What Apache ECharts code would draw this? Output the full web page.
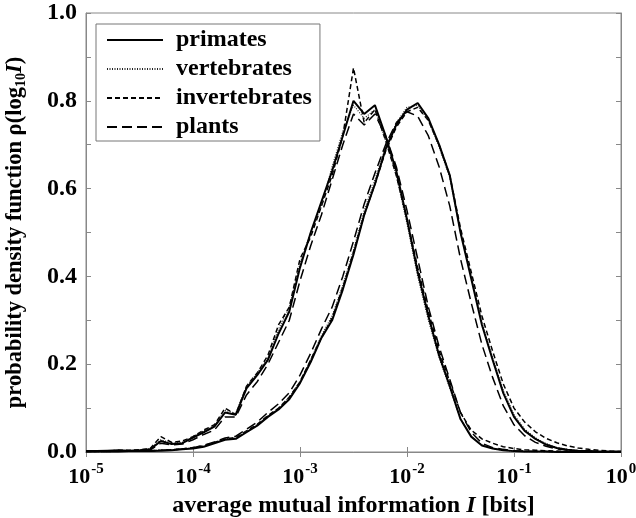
<!DOCTYPE html>
<html>
<head>
<meta charset="utf-8">
<script src="https://cdn.jsdelivr.net/npm/echarts@6/dist/echarts.min.js"></script>
<style>
html,body{margin:0;padding:0;background:#fff;}
#chart{width:636px;height:518px;}
</style>
</head>
<body>
<div id="chart"></div>
<script>
// log10 of average mutual information I
const logI = [-5.0,-4.9,-4.8,-4.7,-4.6,-4.5,-4.4,-4.3,-4.2,-4.1,-4.0,-3.9,-3.8,-3.7,-3.6,-3.5,-3.4,-3.3,-3.2,-3.1,-3.0,-2.9,-2.8,-2.7,-2.6,-2.5,-2.4,-2.3,-2.2,-2.1,-2.0,-1.9,-1.8,-1.7,-1.6,-1.5,-1.4,-1.3,-1.2,-1.1,-1.0,-0.9,-0.8,-0.7,-0.6,-0.5,-0.4,-0.3,-0.2,-0.1,0.0];

const legendNames = ['primates','vertebrates','invertebrates','plants'];

// left group of curves
const primatesA = [0.002,0.002,0.003,0.004,0.003,0.004,0.006,0.025,0.018,0.02,0.033,0.045,0.058,0.09,0.085,0.145,0.175,0.21,0.27,0.32,0.42,0.5,0.57,0.64,0.72,0.8,0.77,0.79,0.72,0.64,0.53,0.41,0.31,0.22,0.15,0.075,0.035,0.015,0.008,0.004,0.002,0.001,0.001,0.001,0,0,0,0,0,0,0];
const vertebratesA = [0.002,0.002,0.002,0.003,0.003,0.004,0.008,0.028,0.02,0.022,0.035,0.048,0.06,0.095,0.088,0.15,0.18,0.215,0.28,0.33,0.43,0.5,0.56,0.65,0.73,0.79,0.76,0.78,0.71,0.63,0.52,0.4,0.3,0.215,0.145,0.075,0.035,0.016,0.008,0.004,0.002,0.001,0.001,0,0,0,0,0,0,0,0];
const invertebratesA = [0.002,0.003,0.002,0.004,0.004,0.005,0.008,0.035,0.022,0.025,0.035,0.05,0.062,0.1,0.085,0.15,0.18,0.22,0.29,0.33,0.44,0.49,0.56,0.63,0.72,0.875,0.75,0.78,0.71,0.63,0.53,0.42,0.32,0.23,0.16,0.09,0.05,0.03,0.02,0.012,0.008,0.005,0.004,0.003,0.002,0.001,0.001,0.001,0,0,0];
const plantsA = [0.001,0.002,0.002,0.003,0.003,0.003,0.005,0.02,0.016,0.018,0.028,0.04,0.05,0.08,0.08,0.13,0.16,0.2,0.25,0.3,0.39,0.47,0.54,0.62,0.7,0.77,0.745,0.77,0.72,0.65,0.55,0.44,0.33,0.24,0.165,0.09,0.045,0.02,0.01,0.006,0.003,0.002,0.001,0.001,0,0,0,0,0,0,0];

// right group of curves
const primatesB = [0.001,0.001,0.001,0.001,0.002,0.002,0.002,0.003,0.004,0.006,0.008,0.012,0.02,0.028,0.03,0.045,0.06,0.08,0.097,0.12,0.157,0.205,0.26,0.3,0.37,0.45,0.54,0.61,0.69,0.745,0.78,0.795,0.76,0.7,0.63,0.5,0.395,0.29,0.21,0.134,0.08,0.048,0.03,0.017,0.009,0.005,0.003,0.002,0.001,0.001,0.001];
const vertebratesB = [0.001,0.001,0.001,0.002,0.002,0.002,0.003,0.004,0.005,0.007,0.009,0.013,0.021,0.03,0.032,0.047,0.062,0.082,0.1,0.125,0.16,0.21,0.265,0.31,0.38,0.46,0.55,0.62,0.695,0.75,0.785,0.79,0.755,0.695,0.625,0.5,0.4,0.295,0.215,0.14,0.085,0.052,0.032,0.019,0.01,0.006,0.003,0.002,0.001,0.001,0];
const invertebratesB = [0.001,0.001,0.002,0.002,0.002,0.003,0.003,0.004,0.005,0.007,0.01,0.014,0.022,0.03,0.033,0.048,0.063,0.083,0.1,0.125,0.16,0.21,0.26,0.305,0.375,0.455,0.54,0.61,0.685,0.74,0.775,0.785,0.755,0.7,0.63,0.51,0.41,0.31,0.23,0.155,0.1,0.068,0.046,0.031,0.021,0.014,0.009,0.006,0.004,0.002,0.001];
const plantsB = [0.001,0.001,0.001,0.002,0.002,0.002,0.003,0.004,0.005,0.007,0.01,0.015,0.023,0.032,0.036,0.052,0.068,0.09,0.11,0.135,0.175,0.225,0.28,0.33,0.4,0.48,0.565,0.635,0.7,0.75,0.775,0.765,0.72,0.65,0.56,0.44,0.34,0.245,0.17,0.105,0.062,0.037,0.022,0.013,0.007,0.004,0.002,0.001,0.001,0,0];

const xTickExponents = [-5,-4,-3,-2,-1,0];
const yTickLabels = ['0.0','0.2','0.4','0.6','0.8','1.0'];

const FONT = 'Liberation Serif';
const styles = {
  primates:      {type:'solid', width:2, color:'#000'},
  vertebrates:   {type:[1,1.5], width:1.2, color:'#222'},
  invertebrates: {type:[5,3], width:1.5, color:'#000'},
  plants:        {type:[10,5], width:1.5, color:'#000'}
};

function mk(name, vals){
  return {
    name: name,
    type: 'line',
    xAxisIndex: 0,
    yAxisIndex: 0,
    symbol: 'none',
    animation: false,
    lineStyle: styles[name],
    itemStyle: {color: styles[name].color},
    data: logI.map((l,i)=>[Math.pow(10,l), vals[i]])
  };
}

const series = [
  mk('plants', plantsA), mk('plants', plantsB),
  mk('invertebrates', invertebratesA), mk('invertebrates', invertebratesB),
  mk('vertebrates', vertebratesA), mk('vertebrates', vertebratesB),
  mk('primates', primatesA), mk('primates', primatesB)
];

const axisLineStyle = {color:'#888', width:1};

const chart = echarts.init(document.getElementById('chart'), null, {renderer:'canvas'});
chart.setOption({
  animation: false,
  backgroundColor: '#fff',
  grid: {left:86, right:15, top:13, bottom:66, containLabel:false, outerBoundsMode:'none',
         show:true, borderColor:'#888', borderWidth:1},
  legend: {
    data: legendNames,
    orient: 'vertical',
    left: 96, top: 24,
    itemWidth: 56, itemHeight: 14, itemGap: 5,
    padding: [4, 8, 2, 10],
    borderColor: '#777', borderWidth: 1,
    backgroundColor: '#fff',
    selectedMode: false,
    itemStyle: {color:'transparent', borderWidth:0, opacity:0},
    textStyle: {fontFamily: FONT, fontWeight:'bold', fontSize:24, color:'#000', padding:[0,0,0,8]}
  },
  xAxis: [{
    type: 'log', logBase: 10, min: 1e-5, max: 1,
    position: 'bottom',
    name: '{n|average mutual information }{i|I}{n| [bits]}',
    nameLocation: 'middle', nameGap: 40,
    nameTextStyle: {
      rich: {
        n: {fontFamily: FONT, fontWeight:'bold', fontSize:24, color:'#000'},
        i: {fontFamily: FONT, fontWeight:'bold', fontStyle:'italic', fontSize:24, color:'#000'}
      }
    },
    axisLine: {lineStyle: axisLineStyle},
    axisTick: {inside:true, length:5, lineStyle: axisLineStyle},
    minorTick: {show:false},
    splitLine: {show:false},
    axisLabel: {
      margin: 10,
      formatter: function(v){
        const e = Math.round(Math.log10(v));
        if (xTickExponents.indexOf(e) < 0) return '';
        return '{b|10}{s|' + e + '}';
      },
      rich: {
        b: {fontFamily: FONT, fontWeight:'bold', fontSize:22, color:'#000'},
        s: {fontFamily: FONT, fontWeight:'bold', fontSize:15, color:'#000', padding:[0,0,16,1]}
      }
    }
  },{
    type: 'log', logBase: 10, min: 1e-5, max: 1,
    position: 'top',
    axisLine: {lineStyle: axisLineStyle},
    axisTick: {inside:true, length:5, lineStyle: axisLineStyle},
    axisLabel: {show:false},
    splitLine: {show:false}
  }],
  yAxis: [{
    type: 'value', min: 0, max: 1, interval: 0.1,
    name: '{n|probability density function ρ(log}{sub|10}{i|I}{n|)}',
    nameLocation: 'middle', nameGap: 58, nameRotate: 90,
    nameTextStyle: {
      rich: {
        n: {fontFamily: FONT, fontWeight:'bold', fontSize:22.5, color:'#000'},
        sub: {fontFamily: FONT, fontWeight:'bold', fontSize:14, color:'#000', padding:[12,0,0,0]},
        i: {fontFamily: FONT, fontWeight:'bold', fontStyle:'italic', fontSize:22.5, color:'#000'}
      }
    },
    axisLine: {show:true, lineStyle: axisLineStyle},
    axisTick: {inside:true, length:5, lineStyle: axisLineStyle},
    splitLine: {show:false},
    axisLabel: {
      margin: 9,
      fontFamily: FONT, fontWeight:'bold', fontSize:24, color:'#000',
      formatter: function(v){
        const k = Math.round(v*10);
        return (k % 2 === 0) ? yTickLabels[k/2] : '';
      }
    }
  },{
    type: 'value', min: 0, max: 1, interval: 0.1,
    position: 'right',
    axisLine: {show:true, lineStyle: axisLineStyle},
    axisTick: {inside:true, length:5, lineStyle: axisLineStyle},
    axisLabel: {show:false},
    splitLine: {show:false}
  }],
  series: series
});
</script>
</body>
</html>
